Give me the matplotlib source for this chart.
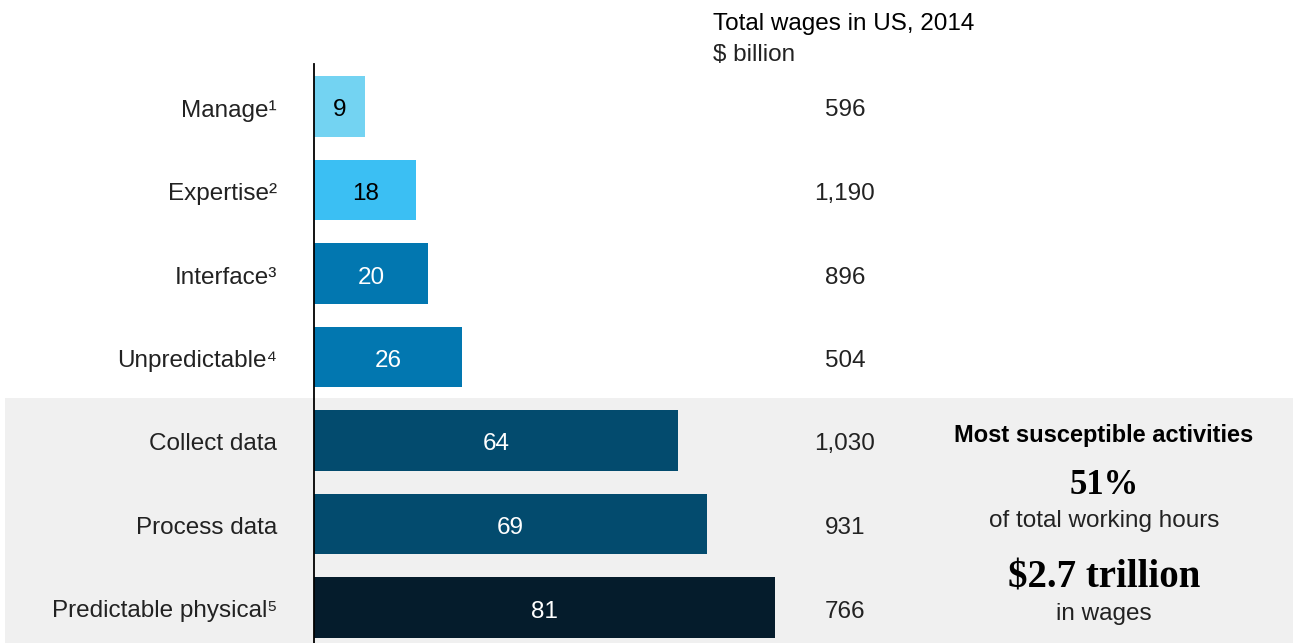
import matplotlib.pyplot as plt
from matplotlib.patches import Rectangle

# === DATA ===
activities = ["Manage¹", "Expertise²", "Interface³", "Unpredictable⁴",
              "Collect data", "Process data", "Predictable physical⁵"]
hours_share = [9, 18, 20, 26, 64, 69, 81]
wages = ["596", "1,190", "896", "504", "1,030", "931", "766"]
bar_colors = ["#73d3f2", "#3bbff3", "#0277b0", "#0277b0",
              "#034b6e", "#034b6e", "#051c2c"]
label_colors = ["black", "black", "white", "white", "white", "white", "white"]

W, H = 1293, 643
SANS = ["Liberation Sans", "DejaVu Sans"]
SERIF = ["Liberation Serif", "DejaVu Serif"]
FS = 17.5

fig = plt.figure(figsize=(W / 100, H / 100), dpi=100)
fig.patch.set_facecolor("white")

# grey panel behind the most susceptible activities (pixel coords)
bg = fig.add_axes([0, 0, 1, 1], zorder=0)
bg.set_xlim(0, W)
bg.set_ylim(H, 0)
bg.axis("off")
bg.add_patch(Rectangle((5, 398), W, H - 398, facecolor="#f0f0f0", edgecolor="none"))

# axes: x=0 at pixel 314, 5.69 px per unit
x0, px_per = 314, 5.69
top, bottom = 64, 643
ax = fig.add_axes([x0 / W, 0, 1 - x0 / W, (bottom - top) / H], zorder=1)
ax.set_facecolor("none")
ax.set_xlim(0, (W - x0) / px_per)
row0, step = 106.5, 83.5
ax.set_ylim((bottom - row0) / step, (top - row0) / step)

ypos = list(range(len(activities)))
ax.barh(ypos, hours_share, height=0.72, color=bar_colors, zorder=2)

base = 10 / step  # baseline sits ~10px below row centre
for y, v, c in zip(ypos, hours_share, label_colors):
    ax.text(v / 2, y + base, str(v), ha="center", va="baseline", fontsize=FS,
            color=c, family=SANS, zorder=3)

wage_x = (845 - x0) / px_per
for y, w in zip(ypos, wages):
    ax.text(wage_x, y + base, w, ha="center", va="baseline", fontsize=FS,
            color="#222222", family=SANS)

label_x = -37 / px_per
for y, name in zip(ypos, activities):
    ax.text(label_x, y + base, name, ha="right", va="baseline", fontsize=FS,
            color="#222222", family=SANS, clip_on=False)

ax.set_yticks([])
ax.set_xticks([])
for s in ["top", "right", "bottom"]:
    ax.spines[s].set_visible(False)
ax.spines["left"].set_linewidth(1.3)
ax.spines["left"].set_color("black")

# header over the wages column
bg.text(713, 30, "Total wages in US, 2014", ha="left", va="baseline",
        fontsize=FS, color="black", family=SANS)
bg.text(713, 61, "$ billion", ha="left", va="baseline",
        fontsize=FS, color="#222222", family=SANS)

# callout
cx = 1104
bg.text(cx, 442, "Most susceptible activities", ha="center", va="baseline",
        fontsize=17, fontweight="bold", color="black", family=SANS)
bg.text(cx, 494, "51%", ha="center", va="baseline",
        fontsize=25, fontweight="bold", color="black", family=SERIF)
bg.text(cx, 527, "of total working hours", ha="center", va="baseline",
        fontsize=FS, color="#222222", family=SANS)
bg.text(cx, 587, "$2.7 trillion", ha="center", va="baseline",
        fontsize=28, fontweight="bold", color="black", family=SERIF)
bg.text(cx, 620, "in wages", ha="center", va="baseline",
        fontsize=FS, color="#222222", family=SANS)

fig.savefig("out.png", dpi=100)
